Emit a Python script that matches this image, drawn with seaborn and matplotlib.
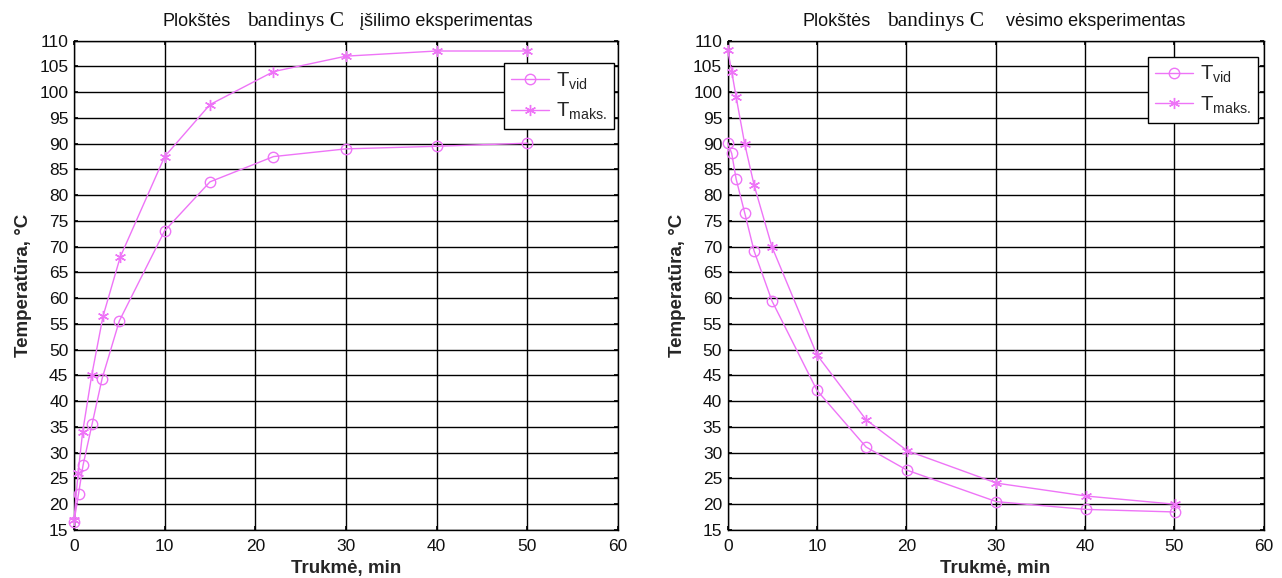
import matplotlib
matplotlib.use("Agg")
import matplotlib.pyplot as plt
import seaborn as sns
import pandas as pd

# ---- data ----
heat_time_vid = [0, 0.5, 1, 2, 3.1, 5, 10, 15, 22, 30, 40, 50]
heat_tvid = [16.6, 22.0, 27.6, 35.6, 44.4, 55.6, 73.1, 82.6, 87.5, 89.0, 89.5, 90.1]
heat_time_max = [0, 0.45, 0.95, 1.95, 3.2, 5.1, 10, 15, 22, 30, 40, 50]
heat_tmax = [17.0, 26.0, 34.0, 45.0, 56.5, 68.0, 87.5, 97.6, 104.0, 107.0, 108.0, 108.0]

cool_time = [0, 0.45, 0.95, 1.9, 2.95, 4.95, 10, 15.5, 20.1, 30.1, 40.1, 50.1]
cool_tvid = [90.2, 88.1, 83.1, 76.6, 69.2, 59.5, 42.1, 31.1, 26.6, 20.5, 19.0, 18.5]
cool_tmax = [108.2, 104.0, 99.0, 90.0, 82.0, 70.0, 49.0, 36.4, 30.4, 24.1, 21.6, 20.0]

legend_labels = [r"$\mathregular{T_{vid}}$", r"$\mathregular{T_{maks.}}$"]
title_parts_left = ["Plokštės", "bandinys C", "įšilimo eksperimentas"]
title_parts_right = ["Plokštės", "bandinys C", "vėsimo eksperimentas"]
xlabel = "Trukmė, min"
ylabel = "Temperatūra, °C"
xticks = list(range(0, 61, 10))
yticks = list(range(15, 111, 5))

sns.set_theme(style="white")
plt.rcParams['font.family'] = ['Liberation Sans', 'DejaVu Sans']
plt.rcParams['mathtext.fontset'] = 'custom'
plt.rcParams['mathtext.rm'] = 'Liberation Sans'

color = "#EE74F7"

fig = plt.figure(figsize=(12.82, 5.78), dpi=100)
ax1 = fig.add_axes([74/1282, 48/578, 544/1282, 489.3/578])
ax2 = fig.add_axes([727.7/1282, 48/578, 535.8/1282, 489.3/578])


def draw(ax, tv_x, tv_y, tm_x, tm_y, title_parts, title_pos, leg_anchor):
    df1 = pd.DataFrame({"t": tv_x, "T": tv_y})
    df2 = pd.DataFrame({"t": tm_x, "T": tm_y})
    sns.lineplot(data=df1, x="t", y="T", ax=ax, color=color, lw=1.0,
                 marker="o", markersize=7.5, markerfacecolor="none",
                 markeredgecolor=color, markeredgewidth=1.0,
                 label=legend_labels[0], sort=False, clip_on=False, zorder=3)
    sns.lineplot(data=df2, x="t", y="T", ax=ax, color=color, lw=1.0,
                 marker=(6, 2, 0), markersize=8,
                 markeredgecolor=color, markeredgewidth=1.0,
                 label=legend_labels[1], sort=False, clip_on=False, zorder=3)
    ax.set_xlim(0, 60)
    ax.set_ylim(15, 110)
    ax.set_xticks(xticks)
    ax.set_yticks(yticks)
    ax.tick_params(axis='both', labelsize=12.5, direction='in', length=3,
                   top=True, right=True, bottom=True, left=True,
                   colors='black')
    ax.tick_params(axis='x', pad=6.5)
    ax.tick_params(axis='y', pad=4)
    for lab in ax.get_xticklabels() + ax.get_yticklabels():
        lab.set_color('#111111')
    ax.grid(True, color='black', lw=1.0)
    ax.set_axisbelow(True)
    for s in ax.spines.values():
        s.set_color('black')
        s.set_linewidth(1.0)
    ax.set_xlabel(xlabel, fontsize=13.5, fontweight='bold', labelpad=4)
    ax.set_ylabel(ylabel, fontsize=13.5, fontweight='bold', labelpad=5)
    fams = [['Liberation Sans'], ['Liberation Serif'], ['Liberation Sans']]
    sizes = [13, 15.5, 13]
    for part, xp, fam, fs in zip(title_parts, title_pos, fams, sizes):
        ax.text(xp, 1.03, part, transform=ax.transAxes, family=fam,
                fontsize=fs, ha='left', va='baseline', color='#111111')
    leg = ax.legend(loc='upper right', bbox_to_anchor=leg_anchor,
                    fontsize=14.5, frameon=True, fancybox=False,
                    edgecolor='black', framealpha=1, handlelength=1.9,
                    borderpad=0.35, labelspacing=0.45, handletextpad=0.35,
                    borderaxespad=0)
    leg.get_frame().set_linewidth(1.0)
    leg.set_zorder(5)


draw(ax1, heat_time_vid, heat_tvid, heat_time_max, heat_tmax,
     title_parts_left, [0.162, 0.318, 0.526], (0.993, 0.954))
draw(ax2, cool_time, cool_tvid, cool_time, cool_tmax,
     title_parts_right, [0.139, 0.297, 0.519], (0.99, 0.967))

fig.savefig("out.png", dpi=100)
